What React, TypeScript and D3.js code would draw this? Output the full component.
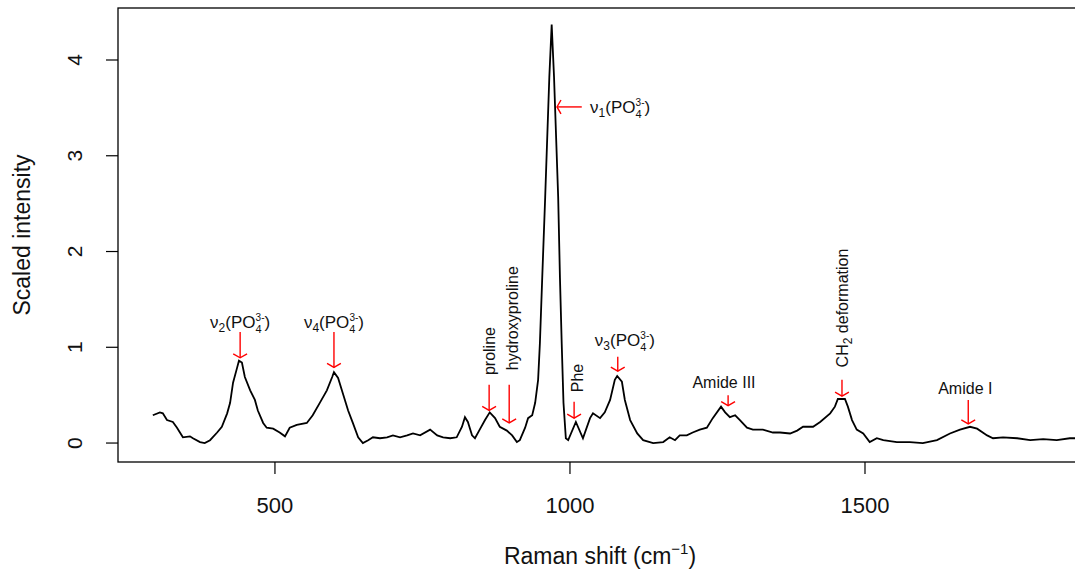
import React from "react";
import * as d3 from "d3";

// spectrum (Raman shift in cm-1, scaled intensity)
const ramanShift = [
  293, 305, 310, 317, 327, 334, 344, 356, 361, 373, 381, 390, 402, 410, 419, 424, 429, 436, 439, 444,
  449, 458, 466, 471, 480, 486, 497, 508, 517, 525, 537, 554, 564, 576, 588, 597, 600, 607, 615, 624,
  632, 641, 649, 658, 666, 678, 690, 700, 712, 724, 734, 746, 763, 775, 785, 797, 808, 817, 822, 827,
  834, 839, 847, 856, 864, 873, 881, 893, 902, 910, 915, 924, 929, 936, 941, 946, 949, 953, 958, 965,
  969, 973, 980, 983, 986, 989, 993, 997, 1010, 1022, 1034, 1039, 1051, 1059, 1068, 1076, 1080, 1088, 1093, 1102,
  1114, 1124, 1141, 1158, 1169, 1178, 1186, 1198, 1208, 1220, 1232, 1242, 1256, 1263, 1271, 1280, 1288, 1300, 1310, 1327,
  1344, 1356, 1373, 1385, 1395, 1412, 1424, 1441, 1449, 1454, 1466, 1471, 1478, 1486, 1497, 1508, 1520, 1531, 1554, 1576,
  1598, 1622, 1644, 1661, 1678, 1690, 1707, 1717, 1734, 1758, 1780, 1802, 1825, 1847, 1860,
];
const intensity = [
  0.29, 0.32, 0.31, 0.24, 0.22, 0.16, 0.06, 0.07, 0.05, 0.01, 0.0, 0.03, 0.11, 0.17, 0.31, 0.42, 0.63, 0.79, 0.86, 0.84,
  0.69, 0.55, 0.45, 0.34, 0.21, 0.16, 0.15, 0.11, 0.07, 0.16, 0.19, 0.21, 0.29, 0.42, 0.55, 0.69, 0.74, 0.68, 0.52, 0.34,
  0.21, 0.06, 0.0, 0.03, 0.06, 0.05, 0.06, 0.08, 0.06, 0.08, 0.1, 0.08, 0.14, 0.08, 0.06, 0.05, 0.06, 0.17, 0.27, 0.22,
  0.08, 0.05, 0.14, 0.24, 0.32, 0.26, 0.17, 0.13, 0.08, 0.01, 0.03, 0.16, 0.26, 0.29, 0.42, 0.66, 1.04, 1.73, 2.57, 3.82,
  4.37, 3.82, 2.57, 1.73, 1.04, 0.42, 0.05, 0.03, 0.22, 0.05, 0.26, 0.31, 0.26, 0.32, 0.45, 0.66, 0.7, 0.64, 0.45, 0.24,
  0.1, 0.03, 0.0, 0.01, 0.06, 0.03, 0.08, 0.08, 0.11, 0.14, 0.16, 0.26, 0.38, 0.32, 0.27, 0.29, 0.24, 0.16, 0.14, 0.14,
  0.11, 0.11, 0.1, 0.13, 0.17, 0.17, 0.22, 0.31, 0.38, 0.46, 0.46, 0.38, 0.24, 0.14, 0.1, 0.01, 0.05, 0.03, 0.01, 0.01,
  0.0, 0.03, 0.1, 0.14, 0.17, 0.15, 0.08, 0.05, 0.06, 0.05, 0.03, 0.04, 0.03, 0.05, 0.05,
];

const xTicks = [500, 1000, 1500];
const yTicks = [0, 1, 2, 3, 4];

// peak annotations: kind, text, arrow x, arrow start/end, text anchor point
const annKind = ["nu", "nu", "left", "vert", "vert", "vert", "nu", "flat", "ch2", "flat"];
const annText = ["2", "4", "1", "proline", "hydroxyproline", "Phe", "3", "Amide III", "deformation", "Amide I"];
const annX = [441, 600, 1020, 863, 897, 1007, 1081, 1268, 1461, 1675];
const annFrom = [1.16, 1.16, 3.51, 0.61, 0.61, 0.43, 0.9, 0.5, 0.66, 0.45];
const annTo = [0.89, 0.79, 978, 0.34, 0.21, 0.26, 0.75, 0.39, 0.49, 0.2];
const annTextX = [441, 600, 1034, 864, 902, 1012, 1093, 1261, 1462, 1670];
const annTextY = [1.26, 1.26, 3.51, 0.71, 0.76, 0.53, 1.08, 0.63, 0.79, 0.57];

const W = 1075;
const H = 575;
const font = "'Liberation Sans', Arial, sans-serif";

function NuLabel({ x, y, sub, anchor }: { x: number; y: number; sub: string; anchor: string }) {
  return (
    <text x={x} y={y} dy="0.35em" textAnchor={anchor} fontSize={17} fill="#111">
      ν
      <tspan dy={4} fontSize={12}>{sub}</tspan>
      <tspan dy={-4}>(PO</tspan>
      <tspan dy={5} fontSize={11}>4</tspan>
      <tspan dx={-6} dy={-12} fontSize={10}>3-</tspan>
      <tspan dy={7}>)</tspan>
    </text>
  );
}

function Arrow({ x1, y1, x2, y2 }: { x1: number; y1: number; x2: number; y2: number }) {
  const a = Math.atan2(y2 - y1, x2 - x1);
  const len = 8;
  const spread = (60 * Math.PI) / 180;
  const h1 = [x2 - len * Math.cos(a - spread), y2 - len * Math.sin(a - spread)];
  const h2 = [x2 - len * Math.cos(a + spread), y2 - len * Math.sin(a + spread)];
  return (
    <g stroke="#ff0000" strokeWidth={1.4} fill="none">
      <line x1={x1} y1={y1} x2={x2} y2={y2} />
      <polyline points={`${h1[0]},${h1[1]} ${x2},${y2} ${h2[0]},${h2[1]}`} />
    </g>
  );
}

export default function App() {
  const x = d3.scaleLinear().domain([234, 1861]).range([118, 1078]);
  const y = d3.scaleLinear().domain([-0.198, 4.543]).range([462, 8]);

  const pts = ramanShift.map((v, i) => [v, intensity[i]] as [number, number]);
  const line = d3
    .line<[number, number]>()
    .x((d) => x(d[0]))
    .y((d) => y(d[1]));

  const [x0, x1] = x.range();
  const [y0, y1] = y.range();

  return (
    <svg
      width={W}
      height={H}
      style={{ position: "absolute", left: 0, top: 0, background: "#fff" }}
      fontFamily={font}
    >
      <defs>
        <clipPath id="plotclip">
          <rect x={x0} y={y1} width={x1 - x0} height={y0 - y1} />
        </clipPath>
      </defs>

      <path d={line(pts) || ""} fill="none" stroke="#000" strokeWidth={1.8} clipPath="url(#plotclip)" />

      {/* frame */}
      <rect x={x0} y={y1} width={x1 - x0} height={y0 - y1} fill="none" stroke="#000" strokeWidth={1.3} />

      {/* x axis */}
      {xTicks.map((t) => (
        <g key={t}>
          <line x1={x(t)} x2={x(t)} y1={y0} y2={y0 + 12} stroke="#000" strokeWidth={1.2} />
          <text x={x(t)} y={505} dy="0.35em" textAnchor="middle" fontSize={22} fill="#111">
            {t}
          </text>
        </g>
      ))}
      {/* y axis */}
      {yTicks.map((t) => (
        <g key={t}>
          <line x1={x0} x2={x0 - 12} y1={y(t)} y2={y(t)} stroke="#000" strokeWidth={1.2} />
          <text
            x={75}
            y={y(t)}
            dy="0.35em"
            textAnchor="middle"
            fontSize={21}
            fill="#111"
            transform={`rotate(-90, 75, ${y(t)})`}
          >
            {t}
          </text>
        </g>
      ))}

      <text x={600} y={556} dy="0.35em" textAnchor="middle" fontSize={23} fill="#111">
        Raman shift (cm
        <tspan dy={-10} fontSize={15}>−1</tspan>
        <tspan dy={10}>)</tspan>
      </text>
      <text
        x={22}
        y={235}
        dy="0.35em"
        textAnchor="middle"
        fontSize={23}
        fill="#111"
        transform="rotate(-90, 22, 235)"
      >
        Scaled intensity
      </text>

      {/* annotations */}
      {annKind.map((k, i) => {
        const ax = x(annX[i]);
        const tx = x(annTextX[i]);
        const ty = y(annTextY[i]);
        const arrow =
          k === "left" ? (
            <Arrow x1={x(annX[i])} y1={y(annFrom[i])} x2={x(annTo[i])} y2={y(annFrom[i])} />
          ) : (
            <Arrow x1={ax} y1={y(annFrom[i])} x2={ax} y2={y(annTo[i])} />
          );
        let label: React.ReactNode = null;
        if (k === "nu") label = <NuLabel x={tx} y={ty} sub={annText[i]} anchor="middle" />;
        if (k === "left") label = <NuLabel x={tx} y={ty} sub={annText[i]} anchor="start" />;
        if (k === "flat")
          label = (
            <text x={tx} y={ty} dy="0.35em" textAnchor="middle" fontSize={16} fill="#111">
              {annText[i]}
            </text>
          );
        if (k === "vert")
          label = (
            <text
              x={tx}
              y={ty}
              dy="0.35em"
              textAnchor="start"
              fontSize={16}
              fill="#111"
              transform={`rotate(-90, ${tx}, ${ty})`}
            >
              {annText[i]}
            </text>
          );
        if (k === "ch2")
          label = (
            <text
              x={tx}
              y={ty}
              dy="0.35em"
              textAnchor="start"
              fontSize={16}
              fill="#111"
              transform={`rotate(-90, ${tx}, ${ty})`}
            >
              CH
              <tspan dy={4} fontSize={12}>2</tspan>
              <tspan dy={-4}> {annText[i]}</tspan>
            </text>
          );
        return (
          <g key={i}>
            {arrow}
            {label}
          </g>
        );
      })}
    </svg>
  );
}
